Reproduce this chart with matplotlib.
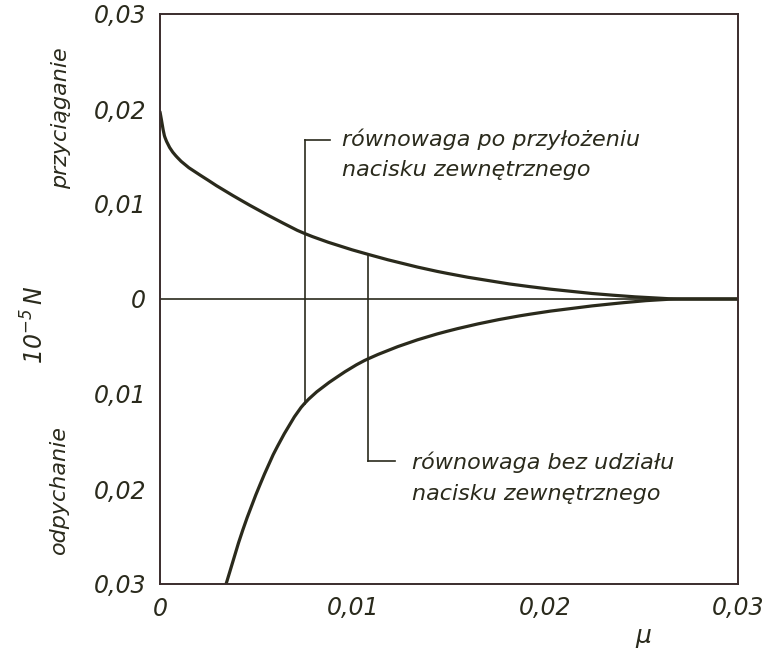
import matplotlib
matplotlib.use("Agg")
import numpy as np
import matplotlib.pyplot as plt
from matplotlib.path import Path
from matplotlib.patches import PathPatch
from matplotlib.ticker import FixedLocator, FuncFormatter

# Attraction branch (upper curve), force in 1e-5 N vs. mu
mu_attr = [0.0, 0.00026, 0.0009, 0.0025, 0.0042, 0.0060, 0.0075, 0.0108,
           0.0149, 0.0192, 0.0235, 0.0258, 0.0270, 0.0300]
f_attr = [0.0197, 0.0170, 0.0149, 0.0125, 0.0104, 0.0084, 0.0069, 0.0047,
          0.0027, 0.0013, 0.0004, 0.0001, 0.0, 0.0]

# Repulsion branch (lower curve)
mu_rep = [0.0034, 0.0043, 0.0052, 0.0061, 0.0075, 0.0092, 0.0108, 0.0149,
          0.0192, 0.0235, 0.0258, 0.0270, 0.0300]
f_rep = [-0.0302, -0.0243, -0.0195, -0.0155, -0.0110, -0.0082, -0.0063, -0.0034,
         -0.0016, -0.0005, -0.0001, 0.0, 0.0]

# Equilibrium markers: (mu, top of leader, bottom of leader)
eq_loaded = (0.0075, 0.0167, -0.0110)
eq_free = (0.0108, 0.0047, -0.0171)

x_ticks = [0.0, 0.01, 0.02, 0.03]
y_ticks = [-0.03, -0.02, -0.01, 0.0, 0.01, 0.02, 0.03]
minor_x = [0.01, 0.02]
minor_y = [-0.02, -0.01, 0.01, 0.02]

ink = "#2a2a1c"
frame = "#3a2c2c"

plt.rcParams["font.family"] = ["DejaVu Sans"]
plt.rcParams["font.style"] = "italic"
plt.rcParams["mathtext.fontset"] = "custom"
plt.rcParams["mathtext.rm"] = "DejaVu Sans:italic"
plt.rcParams["mathtext.it"] = "DejaVu Sans:italic"


def smooth_path(xs, ys):
    """Monotone cubic (Fritsch-Carlson) curve through the points as Bezier segments."""
    x = np.asarray(xs, float)
    y = np.asarray(ys, float)
    h = np.diff(x)
    d = np.diff(y) / h
    m = np.empty_like(x)
    m[0], m[-1] = d[0], d[-1]
    for i in range(1, len(x) - 1):
        if d[i - 1] * d[i] <= 0:
            m[i] = 0.0
        else:
            w1 = 2 * h[i] + h[i - 1]
            w2 = h[i] + 2 * h[i - 1]
            m[i] = (w1 + w2) / (w1 / d[i - 1] + w2 / d[i])
    verts = [(x[0], y[0])]
    codes = [Path.MOVETO]
    for i in range(len(x) - 1):
        verts += [(x[i] + h[i] / 3, y[i] + m[i] * h[i] / 3),
                  (x[i + 1] - h[i] / 3, y[i + 1] - m[i + 1] * h[i] / 3),
                  (x[i + 1], y[i + 1])]
        codes += [Path.CURVE4] * 3
    return Path(verts, codes)


fig = plt.figure(figsize=(7.67, 6.54), dpi=100)
ax = fig.add_axes([160 / 767, 1 - 584 / 654, 578 / 767, 570 / 654])

for xs, ys in ((mu_attr, f_attr), (mu_rep, f_rep)):
    ax.add_patch(PathPatch(smooth_path(xs, ys), facecolor="none",
                           edgecolor=ink, lw=2.3, capstyle="round"))
ax.axhline(0, color=ink, lw=1.2)

# leader lines to the labels
x, top, bot = eq_loaded
ax.plot([x, x], [bot, top], color=ink, lw=1.2)
ax.plot([x, 0.0088], [top, top], color=ink, lw=1.2)
x, top, bot = eq_free
ax.plot([x, x], [top, bot], color=ink, lw=1.2)
ax.plot([x, 0.0122], [bot, bot], color=ink, lw=1.2)

txt_kw = dict(fontsize=16, style="italic", color=ink, va="center", ha="left")
ax.text(0.00945, 0.0168, "równowaga po przyłożeniu", **txt_kw)
ax.text(0.00945, 0.0136, "nacisku zewnętrznego", **txt_kw)
ax.text(0.0131, -0.0172, "równowaga bez udziału", **txt_kw)
ax.text(0.0131, -0.0205, "nacisku zewnętrznego", **txt_kw)

ax.set_xlim(0, 0.03)
ax.set_ylim(-0.03, 0.03)

fmt = FuncFormatter(lambda v, p: "0" if abs(v) < 1e-12 else f"{abs(v):.2f}".replace(".", ","))
ax.xaxis.set_major_locator(FixedLocator(x_ticks))
ax.yaxis.set_major_locator(FixedLocator(y_ticks))
ax.xaxis.set_major_formatter(fmt)
ax.yaxis.set_major_formatter(fmt)
ax.xaxis.set_minor_locator(FixedLocator(minor_x))
ax.yaxis.set_minor_locator(FixedLocator(minor_y))

ax.tick_params(which="major", length=0, labelsize=17, labelcolor=ink)
ax.tick_params(axis="x", which="major", pad=9)
ax.tick_params(axis="y", which="major", pad=10)
ax.tick_params(which="minor", direction="in", length=13, width=1.3, color=ink,
               left=True, right=True, bottom=True, top=False)
for lab in ax.get_xticklabels() + ax.get_yticklabels():
    lab.set_style("italic")

for s in ax.spines.values():
    s.set_color(frame)
    s.set_linewidth(1.4)

side_kw = dict(fontsize=16, style="italic", color=ink, rotation=90,
               ha="center", va="center")
fig.text(61 / 767, 1 - 118 / 654, "przyciąganie", **side_kw)
fig.text(59 / 767, 1 - 490 / 654, "odpychanie", **side_kw)
fig.text(35 / 767, 1 - 325 / 654, r"$10^{-5}\,N$", fontsize=17,
         color=ink, rotation=90, ha="center", va="center")
fig.text(643 / 767, 1 - 636 / 654, "μ", fontsize=18, style="italic",
         color=ink, ha="center", va="center")

fig.savefig("out.png", dpi=100, facecolor="white")
